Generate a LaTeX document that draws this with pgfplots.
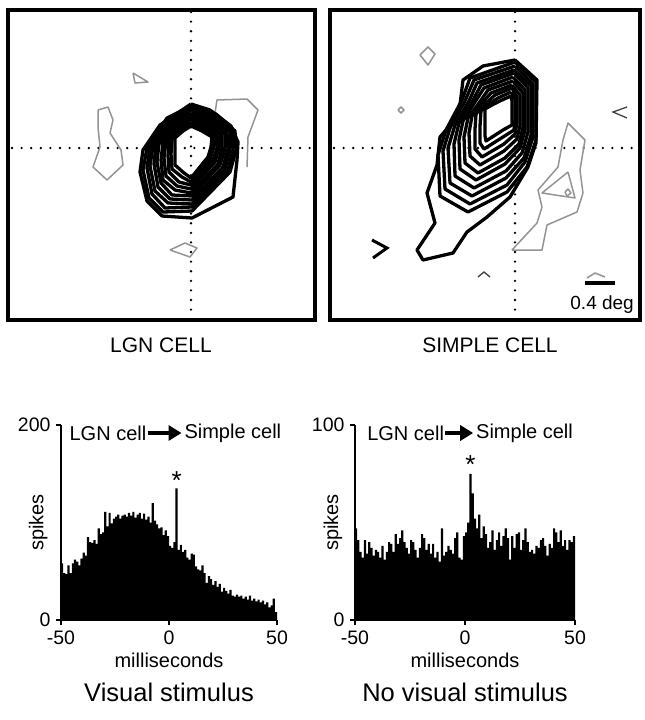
\documentclass[border=0pt]{standalone}
\usepackage{fontspec}
\setmainfont{Liberation Sans}
\usepackage{pgfplots}
\pgfplotsset{compat=1.18}
\usetikzlibrary{arrows.meta}

\pgfplotsset{
  rfmap/.style={scale only axis, anchor=north west, xtick=\empty, ytick=\empty,
    y dir=reverse, axis line style={line width=4.5bp}, clip=false},
  cont/.style={black, line width=3.3bp, line join=round},
  gcont/.style={black!42, line width=1.5bp, line join=round},
  cross/.style={black, line width=2.6bp, dash pattern=on 0pt off 9.6bp, line cap=round},
  psth/.style={scale only axis, anchor=south west, clip=false,
    axis x line=bottom, axis y line=left,
    axis line style={-, line width=2.2bp},
    tick align=outside, major tick length=5bp,
    tick style={line width=2bp, black},
    tick label style={font=\fontsize{19.5bp}{23bp}\selectfont},
    xticklabel style={yshift=-2bp}, yticklabel style={xshift=-2bp},
    /pgf/number format/assume math mode=true,
    xmin=-50, xmax=50, ymin=0,
    xtick={-50,0,50}, xticklabels={-50,0,50},
    xlabel={milliseconds}, ylabel={spikes},
    label style={font=\fontsize{20bp}{24bp}\selectfont},
    xlabel style={at={(axis description cs:0.5,-0.208)}, anchor=center},
  },
  bars/.style={const plot, fill=black, draw=none},
}

\begin{document}
\begin{tikzpicture}
\path (0bp,0bp) rectangle (645bp,-720bp);

% ---------------- LGN cell receptive field ----------------
\begin{axis}[rfmap, at={(8bp,-10bp)}, width=307bp, height=310bp,
  xmin=8, xmax=315, ymin=10, ymax=320]
\addplot[cross] coordinates {(191,12) (191,318)};
\addplot[cross] coordinates {(12,148) (312,148)};
% off-response contours (grey)
\addplot[gcont] coordinates {(133,73) (148,82) (135,83) (133,73)};
\addplot[gcont] coordinates {(98,110) (108,107) (113,120) (110,133) (121,150) (123,165) (107,180) (93,167) (100,147) (98,127) (98,110)};
\addplot[gcont] coordinates {(215,113) (217,100) (247,99) (258,110) (248,137) (247,167)};
\addplot[gcont] coordinates {(170,250) (185,243) (197,248) (190,257) (170,250)};
% on-response contours (black)
\addplot[cont] coordinates {(191,104) (210,110) (231,126) (238,142) (237,160) (233,197) (192,218) (162,216) (147,201) (140,172) (143,150) (160,125) (191,104)};
\addplot[cont] coordinates {(191,106) (216,114) (235,131) (236,150) (230,172) (192,211) (163,212) (149,198) (143,170) (147,148) (167,118) (191,106)};
\addplot[cont] coordinates {(191,108) (214,116) (232,132) (233,150) (228,170) (192,207) (165,208) (152,194) (147,168) (150,147) (169,119) (191,108)};
\addplot[cont] coordinates {(191,110) (213,118) (230,132) (230,149) (225,169) (192,204) (168,203) (155,191) (150,166) (153,146) (171,121) (191,110)};
\addplot[cont] coordinates {(191,113) (211,120) (227,133) (228,149) (223,167) (192,200) (170,199) (158,187) (154,164) (156,145) (172,122) (191,113)};
\addplot[cont] coordinates {(191,115) (210,122) (225,134) (225,149) (220,165) (192,196) (172,195) (161,183) (157,162) (159,144) (174,124) (191,115)};
\addplot[cont] coordinates {(191,117) (208,123) (222,134) (222,148) (218,164) (191,193) (175,190) (163,180) (161,160) (163,142) (176,125) (191,117)};
\addplot[cont] coordinates {(191,119) (207,125) (220,135) (219,148) (215,162) (191,189) (177,186) (166,176) (164,158) (166,141) (178,127) (191,119)};
\addplot[cont] coordinates {(191,122) (205,127) (217,136) (217,148) (213,160) (191,185) (179,182) (169,172) (168,156) (169,140) (179,128) (191,122)};
\addplot[cont] coordinates {(191,124) (204,129) (215,136) (214,147) (210,159) (191,182) (182,177) (172,169) (171,154) (172,139) (181,130) (191,124)};
\addplot[cont] coordinates {(191,126) (202,131) (212,137) (211,147) (208,157) (191,178) (184,173) (175,165) (175,152) (175,138) (183,131) (191,126)};
\node[font=\fontsize{21bp}{25bp}\selectfont] at (axis cs:161,345) {LGN CELL};
\end{axis}

% ---------------- Simple cell receptive field ----------------
\begin{axis}[rfmap, at={(330bp,-10bp)}, width=310bp, height=310bp,
  xmin=330, xmax=640, ymin=10, ymax=320]
\addplot[cross] coordinates {(515,12) (515,318)};
\addplot[cross] coordinates {(334,148) (637,148)};
% off-response contours (grey)
\addplot[gcont] coordinates {(512,250) (542,250) (547,225) (577,212) (583,193) (580,170) (585,140) (568,123) (563,140) (558,167) (538,190) (542,207) (537,223) (512,250)};
\addplot[gcont] coordinates {(568,172) (575,198) (542,193) (568,172)};
\addplot[gcont] coordinates {(565,192) (568,189) (571,193) (567,196) (565,192)};
\addplot[gcont] coordinates {(420,55) (428,47) (435,54) (428,65) (420,55)};
\addplot[gcont] coordinates {(398,110) (401,107) (404,110) (401,113) (398,110)};
\addplot[gcont] coordinates {(587,278) (595,273) (605,277)};
\addplot[black!75, line width=1.3bp] coordinates {(627,107) (613,112) (627,118)};
\addplot[black!75, line width=1.3bp] coordinates {(478,277) (484,272) (490,277)};
\addplot[black, line width=3bp] coordinates {(372,240) (387,248) (373,258)};
% on-response contours (black)
\addplot[cont] coordinates {(515,60) (537,80) (536,143) (528,167) (510,197) (487,217) (467,232) (453,253) (423,260) (417,250) (435,223) (427,193) (437,165) (440,137) (453,122) (460,105) (463,80) (483,66) (515,60)};
\addplot[cont] coordinates {(515,62) (536,82) (536,140) (527,167) (507,192) (468,212) (440,196) (438,155) (446,130) (462,100) (470,78) (515,62)};
\addplot[cont] coordinates {(515,66) (533,84) (533,137) (525,162) (507,185) (470,204) (445,189) (443,151) (450,128) (465,101) (474,80) (515,66)};
\addplot[cont] coordinates {(514,70) (531,86) (531,135) (524,158) (506,178) (472,196) (450,183) (448,148) (455,125) (469,101) (477,83) (514,70)};
\addplot[cont] coordinates {(514,73) (528,88) (528,132) (522,153) (506,171) (474,188) (455,176) (454,144) (459,123) (472,102) (481,85) (514,73)};
\addplot[cont] coordinates {(513,77) (525,90) (525,130) (520,148) (505,164) (476,180) (460,169) (459,140) (463,121) (475,102) (484,88) (513,77)};
\addplot[cont] coordinates {(513,81) (523,93) (523,127) (519,144) (505,158) (478,173) (465,163) (464,137) (468,118) (479,103) (488,90) (513,81)};
\addplot[cont] coordinates {(512,85) (520,95) (520,125) (517,139) (504,151) (480,165) (470,156) (469,133) (472,116) (482,103) (491,93) (512,85)};
\addplot[cont] coordinates {(512,88) (517,97) (517,122) (515,134) (504,144) (482,157) (475,149) (475,129) (476,114) (485,104) (495,95) (512,88)};
\addplot[cont] coordinates {(511,92) (515,99) (515,120) (514,130) (503,137) (484,149) (480,143) (480,126) (481,111) (489,104) (498,98) (511,92)};
\addplot[cont] coordinates {(511,96) (512,101) (512,117) (512,125) (503,130) (486,141) (485,136) (485,122) (485,109) (492,105) (502,100) (511,96)};
% scale bar
\addplot[black, line width=4.5bp] coordinates {(585,283) (615,283)};
\node[font=\fontsize{19bp}{23bp}\selectfont, anchor=base east, inner sep=0pt] at (axis cs:634,309) {0.4 deg};
\node[font=\fontsize{21bp}{25bp}\selectfont] at (axis cs:490,345) {SIMPLE CELL};
\end{axis}

% ---------------- Cross-correlogram, visual stimulus ----------------
\begin{axis}[psth, at={(61bp,-620bp)}, width=216bp, height=195bp,
  ymax=200, ytick={0,200}, yticklabels={0,200},
  ylabel style={at={(axis description cs:-0.105,0.5)}, anchor=center}]
\addplot[bars] coordinates {
(-50,58) (-49,48) (-48,47) (-47,56) (-46,48) (-45,58) (-44,62) (-43,60) (-42,56) (-41,63)
(-40,69) (-39,66) (-38,85) (-37,80) (-36,79) (-35,82) (-34,78) (-33,94) (-32,88) (-31,90)
(-30,111) (-29,96) (-28,110) (-27,99) (-26,104) (-25,106) (-24,108) (-23,104) (-22,107) (-21,108)
(-20,106) (-19,110) (-18,107) (-17,111) (-16,105) (-15,108) (-14,110) (-13,104) (-12,109) (-11,103)
(-10,106) (-9,100) (-8,120) (-7,102) (-6,98) (-5,94) (-4,95) (-3,87) (-2,92) (-1,86)
(0,76) (1,74) (2,80) (3,135) (4,72) (5,77) (6,70) (7,72) (8,64) (9,62)
(10,68) (11,67) (12,55) (13,52) (14,51) (15,56) (16,48) (17,38) (18,45) (19,42)
(20,36) (21,40) (22,34) (23,37) (24,29) (25,33) (26,30) (27,27) (28,31) (29,25)
(30,24) (31,26) (32,24) (33,25) (34,22) (35,24) (36,21) (37,25) (38,20) (39,22)
(40,19) (41,21) (42,18) (43,20) (44,16) (45,18) (46,13) (47,15) (48,22) (49,8) (50,8)
} \closedcycle;
\node[font=\fontsize{26bp}{30bp}\selectfont, anchor=base] at (axis cs:3.5,134) {*};
\node[font=\fontsize{20bp}{24bp}\selectfont, anchor=west, inner sep=0pt] (a1) at (axis cs:-46.1,191.8) {LGN cell};
\draw[line width=4bp, -{Triangle[length=13bp,width=15bp]}] ([xshift=1bp]a1.east) -- ++(34bp,0bp)
  node[anchor=west, inner sep=0pt, xshift=1bp, font=\fontsize{20bp}{24bp}\selectfont] {Simple cell};
\node[font=\fontsize{25.5bp}{30bp}\selectfont] at (axis description cs:0.5,-0.372) {Visual stimulus};
\end{axis}

% ---------------- Cross-correlogram, no visual stimulus ----------------
\begin{axis}[psth, at={(355bp,-620bp)}, width=220bp, height=195bp,
  ymax=100, ytick={0,100}, yticklabels={0,100},
  ylabel style={at={(axis description cs:-0.1,0.5)}, anchor=center}]
\addplot[bars] coordinates {
(-50,47) (-49,41) (-48,35) (-47,32) (-46,41) (-45,34) (-44,40) (-43,37) (-42,33) (-41,36)
(-40,35) (-39,32) (-38,38) (-37,31) (-36,35) (-35,40) (-34,39) (-33,35) (-32,44) (-31,39)
(-30,42) (-29,46) (-28,40) (-27,37) (-26,34) (-25,41) (-24,40) (-23,36) (-22,32) (-21,37)
(-20,44) (-19,42) (-18,36) (-17,39) (-16,34) (-15,39) (-14,32) (-13,35) (-12,30) (-11,47)
(-10,33) (-9,35) (-8,38) (-7,36) (-6,34) (-5,42) (-4,45) (-3,32) (-2,31) (-1,43)
(0,45) (1,50) (2,75) (3,65) (4,52) (5,47) (6,54) (7,42) (8,48) (9,44)
(10,37) (11,40) (12,46) (13,36) (14,41) (15,45) (16,38) (17,43) (18,47) (19,42)
(20,31) (21,43) (22,37) (23,44) (24,45) (25,36) (26,41) (27,47) (28,40) (29,35)
(30,36) (31,34) (32,38) (33,37) (34,41) (35,42) (36,38) (37,33) (38,39) (39,37)
(40,47) (41,45) (42,40) (43,46) (44,38) (45,41) (46,36) (47,41) (48,40) (49,43) (50,43)
} \closedcycle;
\node[font=\fontsize{26bp}{30bp}\selectfont, anchor=base] at (axis cs:2.5,75) {*};
\node[font=\fontsize{20bp}{24bp}\selectfont, anchor=west, inner sep=0pt] (a2) at (axis cs:-44.5,95.9) {LGN cell};
\draw[line width=4bp, -{Triangle[length=13bp,width=15bp]}] ([xshift=1bp]a2.east) -- ++(28bp,0bp)
  node[anchor=west, inner sep=0pt, xshift=1bp, font=\fontsize{20bp}{24bp}\selectfont] {Simple cell};
\node[font=\fontsize{25.5bp}{30bp}\selectfont] at (axis description cs:0.5,-0.372) {No visual stimulus};
\end{axis}
\end{tikzpicture}
\end{document}
